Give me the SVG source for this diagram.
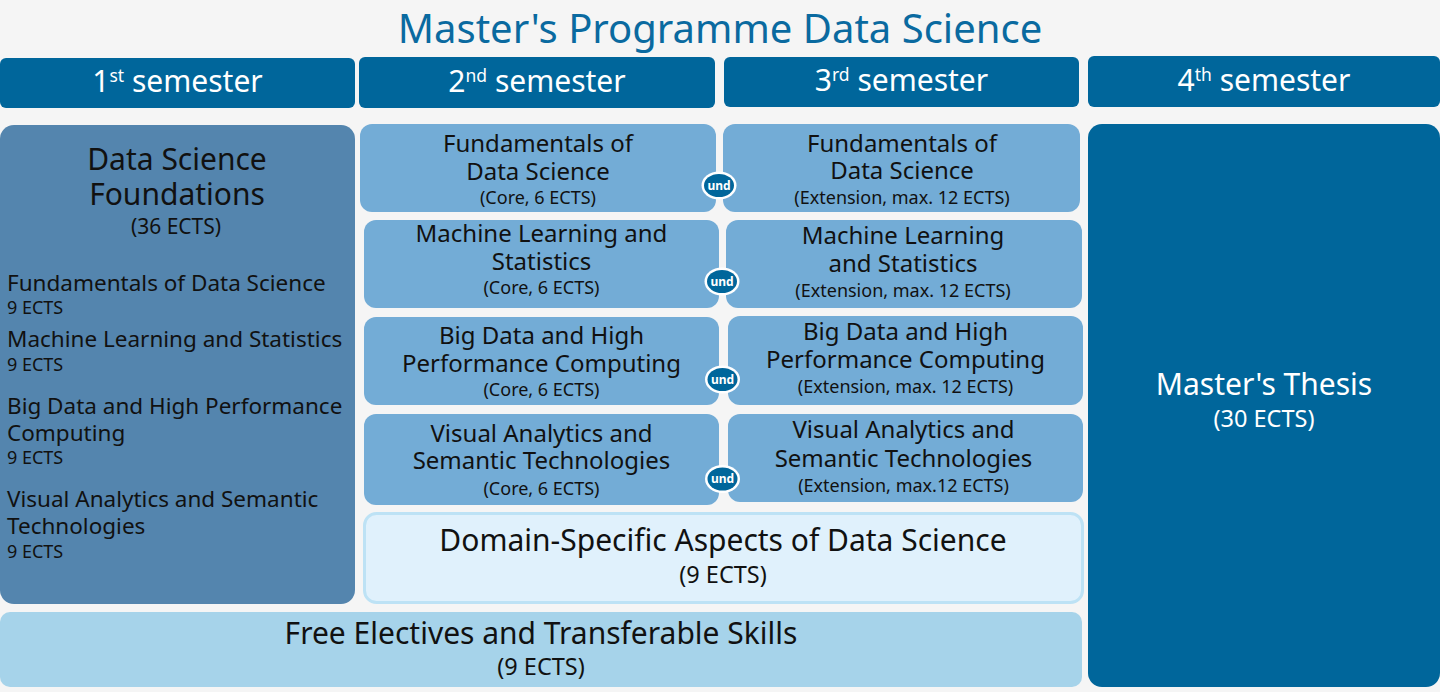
<svg xmlns="http://www.w3.org/2000/svg" width="1440" height="692" viewBox="0 0 1440 692">
<style>
text{font-family:"Noto Sans","Open Sans",sans-serif;fill:#111;}
.hdr{fill:#00669b;}
.hdrt{fill:#fff;font-size:30px;text-anchor:middle;}
.sup{font-size:17.5px;}
.core{fill:#73acd6;}
.t24{font-size:24px;text-anchor:middle;}
.t18{font-size:18px;text-anchor:middle;}
.l22{font-size:22.5px;}
.l18{font-size:18px;}
.big{font-size:30px;text-anchor:middle;}
.ects{font-size:23.5px;text-anchor:middle;}
.und{font-size:12px;font-weight:bold;fill:#fff;text-anchor:middle;}
.ring{fill:#fff;}
.dot{fill:#00669b;}
</style>
<rect width="1440" height="692" fill="#f5f5f5"/>
<text x="720" y="43" style="font-size:40px;text-anchor:middle;fill:#0a6aa0">Master's Programme Data Science</text>

<g id="sem1"><rect class="hdr" x="0" y="58" width="355" height="50" rx="6"/><text class="hdrt" x="177.5" y="91.5">1<tspan class="sup" dy="-10">st</tspan><tspan dy="10"> semester</tspan></text></g>
<g id="sem2"><rect class="hdr" x="359" y="57" width="356" height="51" rx="6"/><text class="hdrt" x="537" y="91.5">2<tspan class="sup" dy="-10">nd</tspan><tspan dy="10"> semester</tspan></text></g>
<g id="sem3"><rect class="hdr" x="724" y="57" width="355" height="50" rx="6"/><text class="hdrt" x="901.5" y="91">3<tspan class="sup" dy="-10">rd</tspan><tspan dy="10"> semester</tspan></text></g>
<g id="sem4"><rect class="hdr" x="1088" y="56" width="352" height="51" rx="6"/><text class="hdrt" x="1264" y="91">4<tspan class="sup" dy="-10">th</tspan><tspan dy="10"> semester</tspan></text></g>

<g id="foundations">
<rect x="0" y="125" width="355" height="479" rx="14" fill="#5485ae"/>
<text class="big" x="177" y="170">Data Science</text>
<text class="big" x="177" y="205">Foundations</text>
<text x="176" y="234" style="font-size:21px;text-anchor:middle">(36 ECTS)</text>
<text class="l22" x="7" y="291">Fundamentals of Data Science</text>
<text class="l18" x="7" y="314">9 ECTS</text>
<text class="l22" x="7" y="347">Machine Learning and Statistics</text>
<text class="l18" x="7" y="371">9 ECTS</text>
<text class="l22" x="7" y="414">Big Data and High Performance</text>
<text class="l22" x="7" y="441">Computing</text>
<text class="l18" x="7" y="464">9 ECTS</text>
<text class="l22" x="7" y="507">Visual Analytics and Semantic</text>
<text class="l22" x="7" y="534">Technologies</text>
<text class="l18" x="7" y="558">9 ECTS</text>
</g>

<g id="core1"><rect class="core" x="360" y="124" width="356" height="88" rx="12"/>
<text class="t24" x="538" y="152">Fundamentals of</text><text class="t24" x="538" y="180">Data Science</text><text class="t18" x="538" y="204">(Core, 6 ECTS)</text></g>
<g id="ext1"><rect class="core" x="723" y="124" width="357" height="88" rx="12"/>
<text class="t24" x="902" y="152">Fundamentals of</text><text class="t24" x="902" y="179">Data Science</text><text class="t18" x="902" y="204">(Extension, max. 12 ECTS)</text></g>

<g id="core2"><rect class="core" x="364" y="220" width="355" height="88" rx="12"/>
<text class="t24" x="541.5" y="242">Machine Learning and</text><text class="t24" x="541.5" y="270">Statistics</text><text class="t18" x="541.5" y="294">(Core, 6 ECTS)</text></g>
<g id="ext2"><rect class="core" x="726" y="220" width="356" height="88" rx="12"/>
<text class="t24" x="903" y="244">Machine Learning</text><text class="t24" x="903" y="272">and Statistics</text><text class="t18" x="903" y="297">(Extension, max. 12 ECTS)</text></g>

<g id="core3"><rect class="core" x="364" y="317" width="355" height="88" rx="12"/>
<text class="t24" x="541.5" y="344">Big Data and High</text><text class="t24" x="541.5" y="372">Performance Computing</text><text class="t18" x="541.5" y="396">(Core, 6 ECTS)</text></g>
<g id="ext3"><rect class="core" x="728" y="316" width="355" height="89" rx="12"/>
<text class="t24" x="905.5" y="340">Big Data and High</text><text class="t24" x="905.5" y="368">Performance Computing</text><text class="t18" x="905.5" y="393">(Extension, max. 12 ECTS)</text></g>

<g id="core4"><rect class="core" x="364" y="414" width="355" height="91" rx="12"/>
<text class="t24" x="541.5" y="442">Visual Analytics and</text><text class="t24" x="541.5" y="469">Semantic Technologies</text><text class="t18" x="541.5" y="495">(Core, 6 ECTS)</text></g>
<g id="ext4"><rect class="core" x="728" y="414" width="355" height="88" rx="12"/>
<text class="t24" x="903.5" y="438">Visual Analytics and</text><text class="t24" x="903.5" y="467">Semantic Technologies</text><text class="t18" x="903.5" y="492">(Extension, max.12 ECTS)</text></g>

<g id="domain"><rect x="364.5" y="513.5" width="718" height="89" rx="12" fill="#e0f1fc" stroke="#bde2f5" stroke-width="3"/>
<text class="big" x="723" y="551">Domain-Specific Aspects of Data Science</text>
<text class="ects" x="723" y="583">(9 ECTS)</text></g>

<g id="electives"><rect x="0" y="612" width="1082" height="75" rx="10" fill="#a6d3ea"/>
<text class="big" x="541" y="644">Free Electives and Transferable Skills</text>
<text class="ects" x="541" y="675">(9 ECTS)</text></g>

<g id="thesis"><rect x="1088" y="124" width="352" height="563" rx="14" fill="#00669b"/>
<text x="1264" y="395" style="font-size:30px;text-anchor:middle;fill:#fff">Master's Thesis</text>
<text x="1264" y="427" style="font-size:23.5px;text-anchor:middle;fill:#fff">(30 ECTS)</text></g>

<g id="connectors">
<g><ellipse class="ring" cx="719" cy="185.5" rx="17.5" ry="14"/><ellipse class="dot" cx="719" cy="185.5" rx="15" ry="11.5"/><text class="und" x="719" y="189.5">und</text></g>
<g><ellipse class="ring" cx="722" cy="281.5" rx="17.5" ry="14"/><ellipse class="dot" cx="722" cy="281.5" rx="15" ry="11.5"/><text class="und" x="722" y="285.5">und</text></g>
<g><ellipse class="ring" cx="722.5" cy="379.5" rx="17.5" ry="14"/><ellipse class="dot" cx="722.5" cy="379.5" rx="15" ry="11.5"/><text class="und" x="722.5" y="383.5">und</text></g>
<g><ellipse class="ring" cx="722.5" cy="479" rx="17.5" ry="14"/><ellipse class="dot" cx="722.5" cy="479" rx="15" ry="11.5"/><text class="und" x="722.5" y="483">und</text></g>
</g>
</svg>
